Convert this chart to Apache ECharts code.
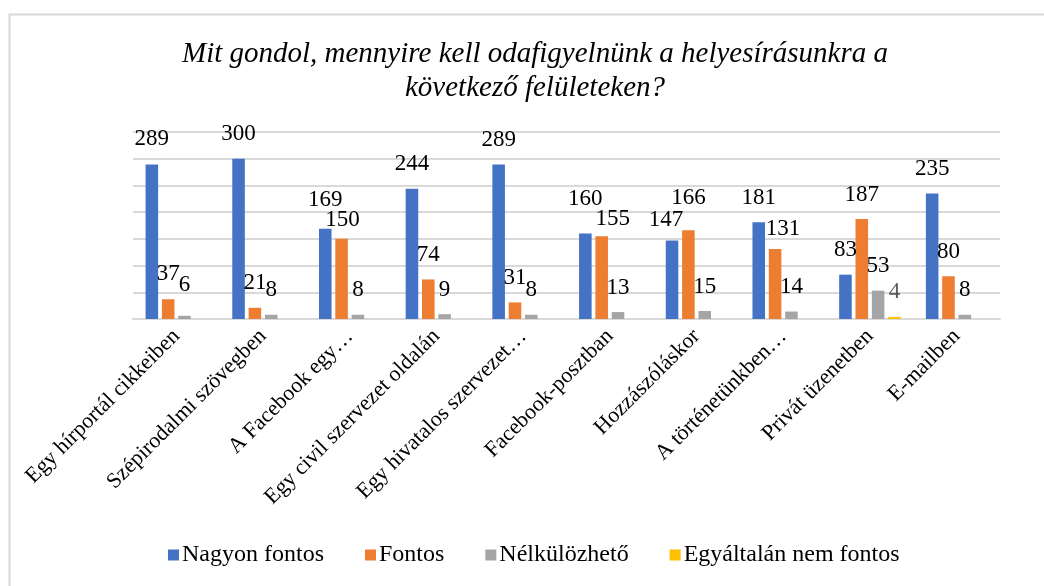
<!DOCTYPE html>
<html lang="hu">

<head>
    <meta charset="utf-8">
    <style type="text/css">
    html, body {
        margin: 0;
        padding: 0;
        background-color: #fff
    }

    #echarts {
        width: 1044px;
        height: 586px;
    }
    </style>
</head>

<body>
    <div id="echarts"></div>
    <script type="text/javascript" src="https://cdn.jsdelivr.net/npm/echarts@6/dist/echarts.min.js"></script>
    <script type="text/javascript">
    var categories = ['Egy hírportál cikkeiben', 'Szépirodalmi szövegben', 'A Facebook egy…',
        'Egy civil szervezet oldalán', 'Egy hivatalos szervezet…', 'Facebook-posztban',
        'Hozzászóláskor', 'A történetünkben…', 'Privát üzenetben', 'E-mailben'];
    var seriesNames = ['Nagyon fontos', 'Fontos', 'Nélkülözhető', 'Egyáltalán nem fontos'];
    var nagyonFontos = [289, 300, 169, 244, 289, 160, 147, 181, 83, 235];
    var fontos = [37, 21, 150, 74, 31, 155, 166, 131, 187, 80];
    var nelkulozheto = [6, 8, 8, 9, 8, 13, 15, 14, 53, 8];
    var egyaltalanNem = [null, null, null, null, null, null, null, null, 4, null];

    var colors = ['#4472C4', '#ED7D31', '#A5A5A5', '#FFC000'];
    var font = 'Liberation Serif';

    /* a few labels are moved like in the Excel original, to avoid overlap */
    var labelNudge = {
        '0-0': [0, -1], '0-2': [0, -4], '0-5': [0, -10], '0-6': [-6, 4],
        '1-0': [0, -1], '1-2': [1, 6], '1-5': [11, 7], '1-6': [0, -8], '1-7': [8, 4],
        '2-0': [0, -6]
    };

    var allValues = [nagyonFontos, fontos, nelkulozheto, egyaltalanNem];

    var myEcharts = echarts.init(document.getElementById('echarts'));

    var series = allValues.map(function(values, s) {
        return {
            name: seriesNames[s],
            type: 'bar',
            barGap: '30%',
            barCategoryGap: '29%',
            itemStyle: { color: colors[s] },
            label: {
                show: true,
                position: 'top',
                distance: 13,
                color: s == 3 ? '#595959' : '#000',
                fontFamily: font,
                fontSize: 23
            },
            data: values.map(function(v, i) {
                var nudge = labelNudge[s + '-' + i];
                if (nudge && v != null) {
                    return { value: v, label: { offset: nudge } };
                }
                return v;
            })
        };
    });

    var option = {
        animation: false,
        textStyle: { fontFamily: font },
        title: {
            text: 'Mit gondol, mennyire kell odafigyelnünk a helyesírásunkra a\nkövetkező felületeken?',
            left: 530,
            top: 32,
            textAlign: 'center',
            textStyle: {
                fontFamily: font,
                fontStyle: 'italic',
                fontWeight: 'normal',
                fontSize: 29,
                lineHeight: 34,
                color: '#000'
            }
        },
        legend: {
            data: seriesNames,
            left: 163,
            top: 538,
            itemWidth: 11,
            itemHeight: 11,
            itemGap: 41,
            icon: 'rect',
            textStyle: {
                fontFamily: font,
                fontSize: 24,
                color: '#000',
                padding: [0, 0, 0, -2]
            }
        },
        grid: {
            left: 133,
            right: 44,
            top: 132,
            bottom: 267,
            containLabel: false
        },
        xAxis: {
            type: 'category',
            data: categories,
            axisLine: { lineStyle: { color: '#d9d9d9', width: 2 } },
            axisTick: { show: false },
            axisLabel: {
                interval: 0,
                rotate: 45,
                margin: 14,
                fontFamily: font,
                fontSize: 22,
                color: '#000'
            }
        },
        yAxis: {
            type: 'value',
            min: 0,
            max: 350,
            interval: 50,
            axisLabel: { show: false },
            axisLine: { show: false },
            axisTick: { show: false },
            splitLine: { lineStyle: { color: '#d9d9d9', width: 2 } }
        },
        graphic: [{
            type: 'rect',
            left: 7,
            top: 12,
            shape: { width: 1100, height: 700 },
            style: { fill: 'none', stroke: '#d9d9d9', lineWidth: 2 },
            silent: true
        }],
        series: series
    };
    myEcharts.setOption(option);
    </script>
</body>

</html>
